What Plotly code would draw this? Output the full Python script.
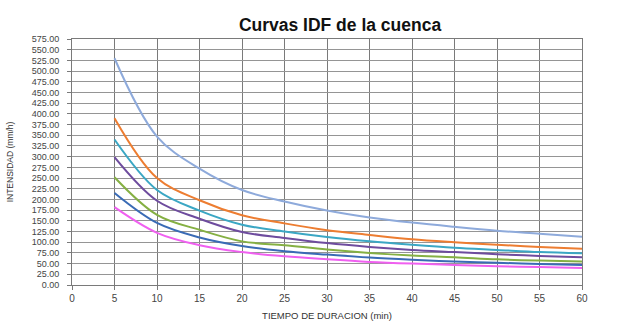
import plotly.graph_objects as go

# Duración de la lluvia (min)
duracion = [5, 10, 15, 20, 25, 30, 35, 40, 45, 50, 55, 60]

# Intensidades (mm/h) por período de retorno
serie_1 = [530, 347, 272, 222, 195, 174, 158, 146, 136, 127, 120, 113]
serie_2 = [390, 250, 198, 163, 144, 128, 117, 107, 100, 94, 89, 85]
serie_3 = [340, 222, 174, 141, 125, 112, 102, 94, 87, 82, 77, 74]
serie_4 = [299, 197, 155, 124, 110, 98, 89, 82, 77, 72, 68, 65]
serie_5 = [252, 164, 129, 102, 93, 83, 75, 69, 65, 60, 57, 55]
serie_6 = [215, 145, 111, 91, 79, 71, 64, 59, 55, 52, 49, 47]
serie_7 = [182, 122, 93, 77, 67, 60, 54, 50, 47, 44, 42, 40]

series = [serie_1, serie_2, serie_3, serie_4, serie_5, serie_6, serie_7]
colores = ["#8EAADB", "#ED7D31", "#3BA7C4", "#6E4C9E", "#85B043", "#3A6BB5", "#F060F0"]

titulo = "Curvas IDF de la cuenca"
titulo_x = "TIEMPO DE DURACION (min)"
titulo_y = "INTENSIDAD (mm/h)"

fig = go.Figure()
for valores, color in zip(series, colores):
    fig.add_trace(go.Scatter(
        x=duracion, y=valores, mode="lines",
        line=dict(color=color, width=2, shape="spline", smoothing=1.0),
        showlegend=False, hoverinfo="x+y",
    ))

fig.update_layout(
    width=644, height=326,
    margin=dict(l=72, r=62, t=39, b=41),
    paper_bgcolor="white", plot_bgcolor="white",
    font=dict(family="Liberation Sans, Arial, sans-serif", color="#333"),
    title=dict(text="<b>" + titulo + "</b>", x=0.528, xanchor="center",
               y=0.925, yanchor="middle",
               font=dict(size=17.5, color="#111")),
)

fig.update_xaxes(
    range=[0, 60], dtick=5, tick0=0, automargin=False,
    showgrid=True, gridcolor="#7a7a7a", gridwidth=1,
    showline=True, linecolor="#7a7a7a", mirror=True,
    ticks="outside", ticklen=4, tickcolor="#7a7a7a",
    tickfont=dict(size=10, color="#444"),
    title=dict(text=titulo_x, font=dict(size=9.5, color="#333"), standoff=9),
    zeroline=False,
)
fig.update_yaxes(
    range=[0, 575], dtick=25, tick0=0, tickformat=".2f", automargin=False,
    showgrid=True, gridcolor="#959595", gridwidth=1,
    showline=True, linecolor="#7a7a7a", mirror=True,
    ticks="outside", ticklen=4, tickcolor="#7a7a7a",
    ticklabelstandoff=6,
    tickfont=dict(size=9, color="#444"),
    title=dict(text=titulo_y, font=dict(size=8.5, color="#333"), standoff=16),
    zeroline=False,
)

fig.write_html("out.html")
